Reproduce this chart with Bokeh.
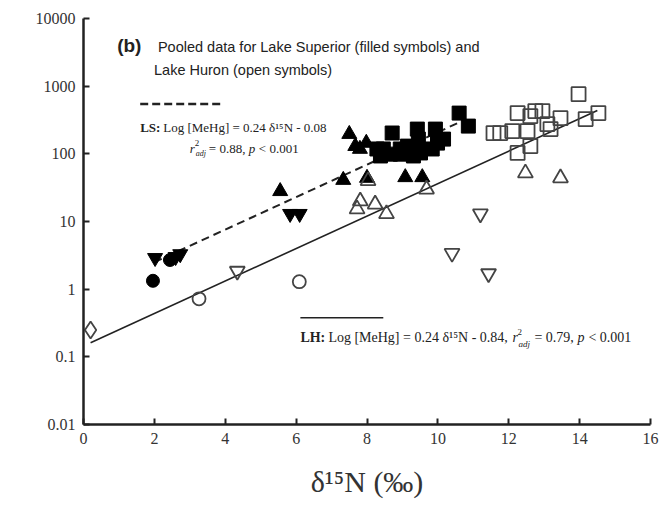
from bokeh.plotting import figure
from bokeh.models import FixedTicker, CustomJSTickFormatter, Label
from bokeh.embed import file_html
from bokeh.resources import INLINE

# ---- data (delta15N, MeHg) ----
# Lake Superior (filled symbols)
ls_circle_x = [1.96, 2.44]
ls_circle_y = [1.33, 2.7]
ls_tri_dn_x = [2.02, 2.6, 2.73, 5.83, 6.1]
ls_tri_dn_y = [2.9, 3.0, 3.3, 13, 13]
ls_tri_up_x = [5.55, 7.33, 7.5, 7.67, 7.98, 7.8, 8.0, 9.08, 9.56]
ls_tri_up_y = [28, 41, 196, 130, 145, 118, 44, 45, 45]
ls_square_x = [8.28, 8.38, 8.46, 8.66, 8.71, 8.94, 8.94, 9.14, 9.31, 9.42,
               9.45, 9.51, 9.84, 9.93, 9.99, 10.16, 10.6, 10.86]
ls_square_y = [118, 93, 118, 99, 203, 118, 99, 130, 93, 232,
               165, 103, 118, 232, 144, 165, 400, 257]

# Lake Huron (open symbols)
lh_diamond_x = [0.2]
lh_diamond_y = [0.25]
lh_circle_x = [3.26, 6.09]
lh_circle_y = [0.72, 1.29]
lh_tri_dn_x = [4.34, 10.4, 11.2, 11.43]
lh_tri_dn_y = [1.85, 3.4, 13, 1.7]
lh_tri_up_x = [7.72, 7.81, 8.03, 8.23, 8.55, 9.68, 12.47, 13.46]
lh_tri_up_y = [15.3, 20, 40, 18, 13, 30, 52, 44]
lh_square_x = [11.57, 11.76, 12.1, 12.53, 12.25, 12.61, 12.75, 12.95, 13.09,
               13.46, 13.18, 12.61, 12.25, 13.97, 14.17, 14.53]
lh_square_y = [203, 203, 217, 217, 400, 361, 428, 428, 275,
               337, 232, 130, 103, 762, 326, 400]

# regression lines: log10(MeHg) = slope * d15N + intercept
ls_slope, ls_intercept, ls_xrange = 0.24, -0.08, [2.0, 10.8]
lh_slope, lh_intercept, lh_xrange = 0.24, -0.84, [0.2, 14.5]

x_ticks = [0, 2, 4, 6, 8, 10, 12, 14, 16]
y_ticks = [0.01, 0.1, 1, 10, 100, 1000, 10000]

SERIF = "Liberation Serif"
SANS = "Liberation Sans"
INK = "#222222"

p = figure(width=662, height=516, output_backend="svg", toolbar_location=None,
           y_axis_type="log", x_range=(0, 16), y_range=(0.01, 10000),
           min_border_left=83, min_border_right=12, min_border_top=18,
           min_border_bottom=92)
p.outline_line_color = None
p.grid.grid_line_color = None
p.background_fill_color = "white"

p.axis.axis_line_width = 2.5
p.axis.axis_line_color = INK
p.axis.major_tick_in = 6
p.axis.major_tick_out = 0
p.axis.major_tick_line_width = 2
p.axis.major_tick_line_color = INK
p.axis.minor_tick_line_color = None
p.axis.major_label_text_font = SERIF
p.axis.major_label_text_font_size = "16px"
p.axis.major_label_text_color = "#333333"
p.axis.major_label_standoff = 8

p.xaxis.ticker = FixedTicker(ticks=x_ticks)
p.yaxis.ticker = FixedTicker(ticks=y_ticks)
p.yaxis.formatter = CustomJSTickFormatter(code="return String(tick);")
p.xaxis.axis_label = "δ¹⁵N (‰)"
p.xaxis.axis_label_text_font = SERIF
p.xaxis.axis_label_text_font_style = "normal"
p.xaxis.axis_label_text_font_size = "30px"
p.xaxis.axis_label_text_color = "#333333"
p.xaxis.axis_label_standoff = 18

# regression lines
ls_y = [10 ** (ls_slope * x + ls_intercept) for x in ls_xrange]
lh_y = [10 ** (lh_slope * x + lh_intercept) for x in lh_xrange]
p.line(ls_xrange, ls_y, line_color=INK, line_width=2, line_dash="8 5")
p.line(lh_xrange, lh_y, line_color=INK, line_width=1.6)

# filled symbols
fk = dict(fill_color="black", line_color="black", line_width=1)
p.scatter(ls_square_x, ls_square_y, marker="square", size=14, **fk)
p.scatter(ls_tri_up_x, ls_tri_up_y, marker="triangle", size=15, **fk)
p.scatter(ls_tri_dn_x, ls_tri_dn_y, marker="inverted_triangle", size=15, **fk)
p.scatter(ls_circle_x, ls_circle_y, marker="circle", size=13, **fk)

# open symbols
ok = dict(fill_color=None, line_color="#444444", line_width=1.8)
p.scatter(lh_square_x, lh_square_y, marker="square", size=14, **ok)
p.scatter(lh_tri_up_x, lh_tri_up_y, marker="triangle", size=15, **ok)
p.scatter(lh_tri_dn_x, lh_tri_dn_y, marker="inverted_triangle", size=15, **ok)
p.scatter(lh_circle_x, lh_circle_y, marker="circle", size=13, **ok)
p.scatter(lh_diamond_x, lh_diamond_y, marker="diamond", size=17, **ok)

# ---- annotations ----
def lab(x, y, text, font=SERIF, size="13px", style="normal", xo=0, yo=0,
        baseline="middle", color=INK):
    p.add_layout(Label(x=x, y=y, text=text, text_font=font, text_font_size=size,
                       text_font_style=style, text_baseline=baseline,
                       text_color=color, x_offset=xo, y_offset=yo))

lab(0.95, 4030, "(b)", font=SANS, size="19px", style="bold")
lab(2.1, 3760, "Pooled data for Lake Superior (filled symbols) and", font=SANS, size="14.5px")
lab(1.99, 1722, "Lake Huron (open symbols)", font=SANS, size="14.5px")

# LS legend
p.line([1.6, 3.91], [543, 543], line_color=INK, line_width=2.5, line_dash="8 4")
lab(1.6, 248, "LS:", style="bold")
lab(1.6, 248, "Log [MeHg] = 0.24 δ¹⁵N - 0.08", xo=23)
r2x = 3.0
lab(r2x, 118, "r", style="italic")
lab(r2x, 118, "2", size="9px", xo=5, yo=6)
lab(r2x, 118, "adj", size="8px", style="italic", xo=6, yo=-5)
lab(r2x, 118, "= 0.88,", xo=19)
lab(r2x, 118, "p", style="italic", xo=59)
lab(r2x, 118, "< 0.001", xo=69)

# LH legend
p.line([6.12, 8.46], [0.379, 0.379], line_color=INK, line_width=1.5)
lab(6.12, 0.192, "LH:", style="bold", size="14px")
lab(6.12, 0.192, "Log [MeHg] = 0.24 δ¹⁵N - 0.84,", size="14px", xo=28)
lab(6.12, 0.192, "r", style="italic", size="14px", xo=212)
lab(6.12, 0.192, "2", size="9px", xo=217, yo=6)
lab(6.12, 0.192, "adj", size="9px", style="italic", xo=218, yo=-6)
lab(6.12, 0.192, "= 0.79,", size="14px", xo=234)
lab(6.12, 0.192, "p", style="italic", size="14px", xo=277)
lab(6.12, 0.192, "< 0.001", size="14px", xo=288)

open("out.html", "w").write(file_html(p, INLINE))
